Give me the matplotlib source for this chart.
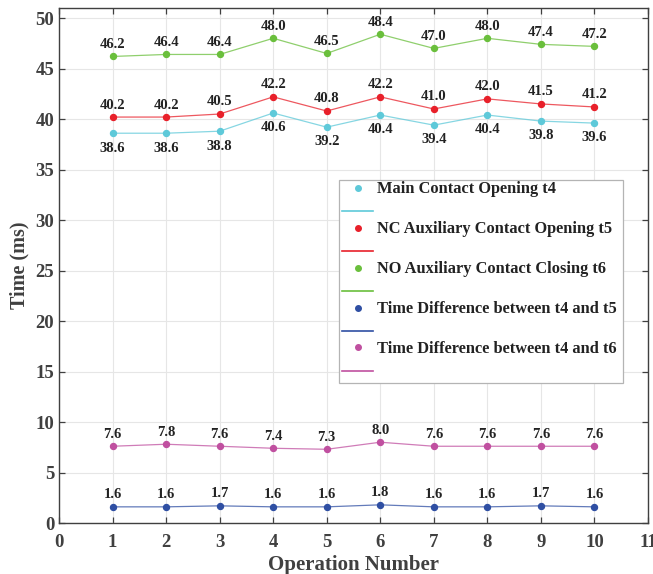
import matplotlib
matplotlib.use("Agg")
import matplotlib.pyplot as plt
from matplotlib.lines import Line2D
from matplotlib.patches import Rectangle
from matplotlib.legend_handler import HandlerBase

plt.rcParams['font.family'] = ['Liberation Serif', 'DejaVu Serif']
plt.rcParams['font.weight'] = 'bold'

operations = [1, 2, 3, 4, 5, 6, 7, 8, 9, 10]
t4_main_open = [38.6, 38.6, 38.8, 40.6, 39.2, 40.4, 39.4, 40.4, 39.8, 39.6]
t5_nc_open = [40.2, 40.2, 40.5, 42.2, 40.8, 42.2, 41.0, 42.0, 41.5, 41.2]
t6_no_close = [46.2, 46.4, 46.4, 48.0, 46.5, 48.4, 47.0, 48.0, 47.4, 47.2]
diff_t4_t5 = [1.6, 1.6, 1.7, 1.6, 1.6, 1.8, 1.6, 1.6, 1.7, 1.6]
diff_t4_t6 = [7.6, 7.8, 7.6, 7.4, 7.3, 8.0, 7.6, 7.6, 7.6, 7.6]

series_names = [
    "Main Contact Opening t4",
    "NC Auxiliary Contact Opening t5",
    "NO Auxiliary Contact Closing t6",
    "Time Difference between t4 and t5",
    "Time Difference between t4 and t6",
]
series_values = [t4_main_open, t5_nc_open, t6_no_close, diff_t4_t5, diff_t4_t6]
series_colors = ["#5ec9d9", "#e8202a", "#6abf3c", "#2f4fa3", "#c050a0"]
label_below = [True, False, False, False, False]

W, H = 653, 574
fig = plt.figure(figsize=(W / 100, H / 100), dpi=100)
ax_l, ax_r, ax_t, ax_b = 59, 648, 8, 523
ax = fig.add_axes([ax_l / W, 1 - ax_b / H, (ax_r - ax_l) / W, (ax_b - ax_t) / H])


def px_to_axes(x, y):
    return (x - ax_l) / (ax_r - ax_l), 1 - (y - ax_t) / (ax_b - ax_t)


handles = []
for name, vals, col, below in zip(series_names, series_values, series_colors, label_below):
    ax.plot(operations, vals, color=col, lw=0.9, alpha=0.75, zorder=3)
    ax.plot(operations, vals, ls='none', marker='o', ms=4.3, color=col, zorder=4)
    for x, v in zip(operations, vals):
        ax.annotate(f"{v:.1f}", (x, v), xytext=(0, -6 if below else 4),
                    textcoords='offset points', ha='center',
                    va='top' if below else 'bottom',
                    fontsize=10.5, fontweight='bold', color='#222222', zorder=5)
    handles.append(Line2D([], [], color=col, marker='o', ms=4, lw=1.2))


class DotOverLine(HandlerBase):
    def create_artists(self, legend, orig_handle, xdescent, ydescent,
                       width, height, fontsize, trans):
        col = orig_handle.get_color()
        yc = height / 2 - ydescent
        dot = Line2D([width / 2 - xdescent], [yc], marker='o', ms=4,
                     color=col, ls='none', transform=trans)
        line = Line2D([-xdescent, width - xdescent], [yc - 17, yc - 17],
                      color=col, lw=1.2, transform=trans)
        return [dot, line]


# legend frame drawn separately so it encloses the line under the last entry
fx0, fy0 = px_to_axes(339, 383)
fx1, fy1 = px_to_axes(623, 180)
ax.add_patch(Rectangle((fx0, fy0), fx1 - fx0, fy1 - fy0, transform=ax.transAxes,
                       facecolor='white', edgecolor='#b4b4b4', lw=0.9, zorder=6))

leg = ax.legend(handles, series_names, loc='upper left',
                bbox_to_anchor=px_to_axes(342, 181.5),
                handler_map={Line2D: DotOverLine()},
                prop={'family': 'Liberation Serif', 'weight': 'bold', 'size': 11.8},
                labelspacing=1.46, handlelength=1.9, handletextpad=0.25,
                borderpad=0, frameon=False, borderaxespad=0)
leg.set_zorder(7)
for t in leg.get_texts():
    t.set_color('#222222')

ax.set_xlim(0, 11)
ax.set_ylim(0, 51)
ax.set_xticks(range(0, 12))
ax.set_yticks(range(0, 51, 5))
ax.grid(True, color='#e6e6e6', lw=0.8, zorder=0)
ax.set_axisbelow(True)
ax.tick_params(direction='in', top=True, right=True, length=4, width=0.9,
               colors='#404040', labelsize=13.5)
ax.tick_params(axis='x', pad=8)
for lbl in ax.get_xticklabels() + ax.get_yticklabels():
    lbl.set_fontweight('bold')
for s in ax.spines.values():
    s.set_color('#404040')
    s.set_linewidth(1.0)

ax.set_xlabel("Operation Number", fontsize=15, fontweight='bold', color='#404040', labelpad=3)
ax.set_ylabel("Time (ms)", fontsize=14.5, fontweight='bold', color='#404040', labelpad=4)

fig.savefig("out.png", dpi=100)
